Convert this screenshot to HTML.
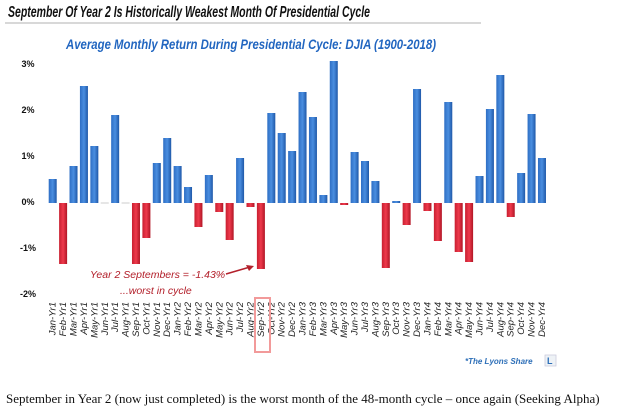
<!DOCTYPE html>
<html><head><meta charset="utf-8"><style>
body{margin:0;background:#fff;width:624px;height:412px;overflow:hidden;}
</style></head><body>
<svg width="624" height="412" xmlns="http://www.w3.org/2000/svg" font-family="Liberation Sans, sans-serif">
<defs>
<linearGradient id="b" x1="0" x2="1"><stop offset="0" stop-color="#2e6ec4"/><stop offset="0.5" stop-color="#4a8ee0"/><stop offset="1" stop-color="#1f58a8"/></linearGradient>
<linearGradient id="r" x1="0" x2="1"><stop offset="0" stop-color="#c81f30"/><stop offset="0.5" stop-color="#ee3a4c"/><stop offset="1" stop-color="#b01525"/></linearGradient>
</defs>
<text x="8" y="17" font-size="15.5" font-weight="bold" font-style="italic" fill="#111" textLength="362" lengthAdjust="spacingAndGlyphs">September Of Year 2 Is Historically Weakest Month Of Presidential Cycle</text>
<line x1="5" y1="23" x2="481" y2="23" stroke="#ccc" stroke-width="1.5"/>
<text x="66" y="49" font-size="14" font-weight="bold" font-style="italic" fill="#2266c0" textLength="370" lengthAdjust="spacingAndGlyphs">Average Monthly Return During Presidential Cycle:  DJIA (1900-2018)</text>
<g font-size="9" font-weight="bold" fill="#111" text-anchor="middle">
<text x="28" y="67">3%</text><text x="28" y="113">2%</text><text x="28" y="159">1%</text><text x="28" y="205">0%</text><text x="28" y="251">-1%</text><text x="28" y="297">-2%</text>
</g>
<g id="bars"></g>
<g id="labels" font-size="9.5" font-style="italic" fill="#222"></g>
<rect x="255" y="298" width="15" height="54" fill="none" stroke="#f29a9a" stroke-width="2"/>
<text x="90" y="278" font-size="10.5" font-style="italic" fill="#b3202b">Year 2 Septembers = -1.43%</text>
<text x="120" y="294" font-size="10.5" font-style="italic" fill="#b3202b">...worst in cycle</text>
<line x1="226" y1="274" x2="250" y2="267" stroke="#b3202b" stroke-width="1.5"/>
<polygon points="254,266 246,265 249,271" fill="#b3202b"/>
<text x="465" y="364" font-size="8" font-weight="bold" font-style="italic" fill="#2d6fb8">*The Lyons Share</text>
<rect x="545" y="355" width="11" height="11" fill="#eef2f6" stroke="#ccd" stroke-width="0.8"/>
<text x="547" y="364" font-size="9" font-weight="bold" fill="#2d6fb8">L</text>
<text x="6" y="403" font-size="13" font-family="Liberation Serif, serif" fill="#111">September in Year 2 (now just completed) is the worst month of the 48-month cycle – once again (Seeking Alpha)</text>
</svg>
<script>
var tops=[179,264,166,86,146,203,115,203,264,238,163,138,166,187,227,175,212,240,158,207,269,113,133,151,92,117,195,61,205,152,161,181,268,201,225,89,211,241,102,252,262,176,109,75,217,173,114,158];
var m=["Jan","Feb","Mar","Apr","May","Jun","Jul","Aug","Sep","Oct","Nov","Dec"];
var ns="http://www.w3.org/2000/svg",z=203,B=document.getElementById("bars"),L=document.getElementById("labels");
tops.forEach(function(t,i){
 var cx=52.7+i*10.41,r=document.createElementNS(ns,"rect");
 var pos=t<z, y=pos?t:z, h=Math.abs(t-z);
 if(h<1.5){h=1;y=z-0.5;}
 r.setAttribute("x",cx-4);r.setAttribute("y",y);r.setAttribute("width",8);r.setAttribute("height",h);
 r.setAttribute("fill",pos?"url(#b)":"url(#r)");
 if(h<=1) r.setAttribute("fill","#ccc");
 B.appendChild(r);
 var tx=document.createElementNS(ns,"text");
 tx.setAttribute("transform","translate("+(cx+3)+",302) rotate(-90)");
 tx.setAttribute("text-anchor","end");
 tx.textContent=m[i%12]+"-Yr"+(Math.floor(i/12)+1);
 L.appendChild(tx);
});
</script>
</body></html>
